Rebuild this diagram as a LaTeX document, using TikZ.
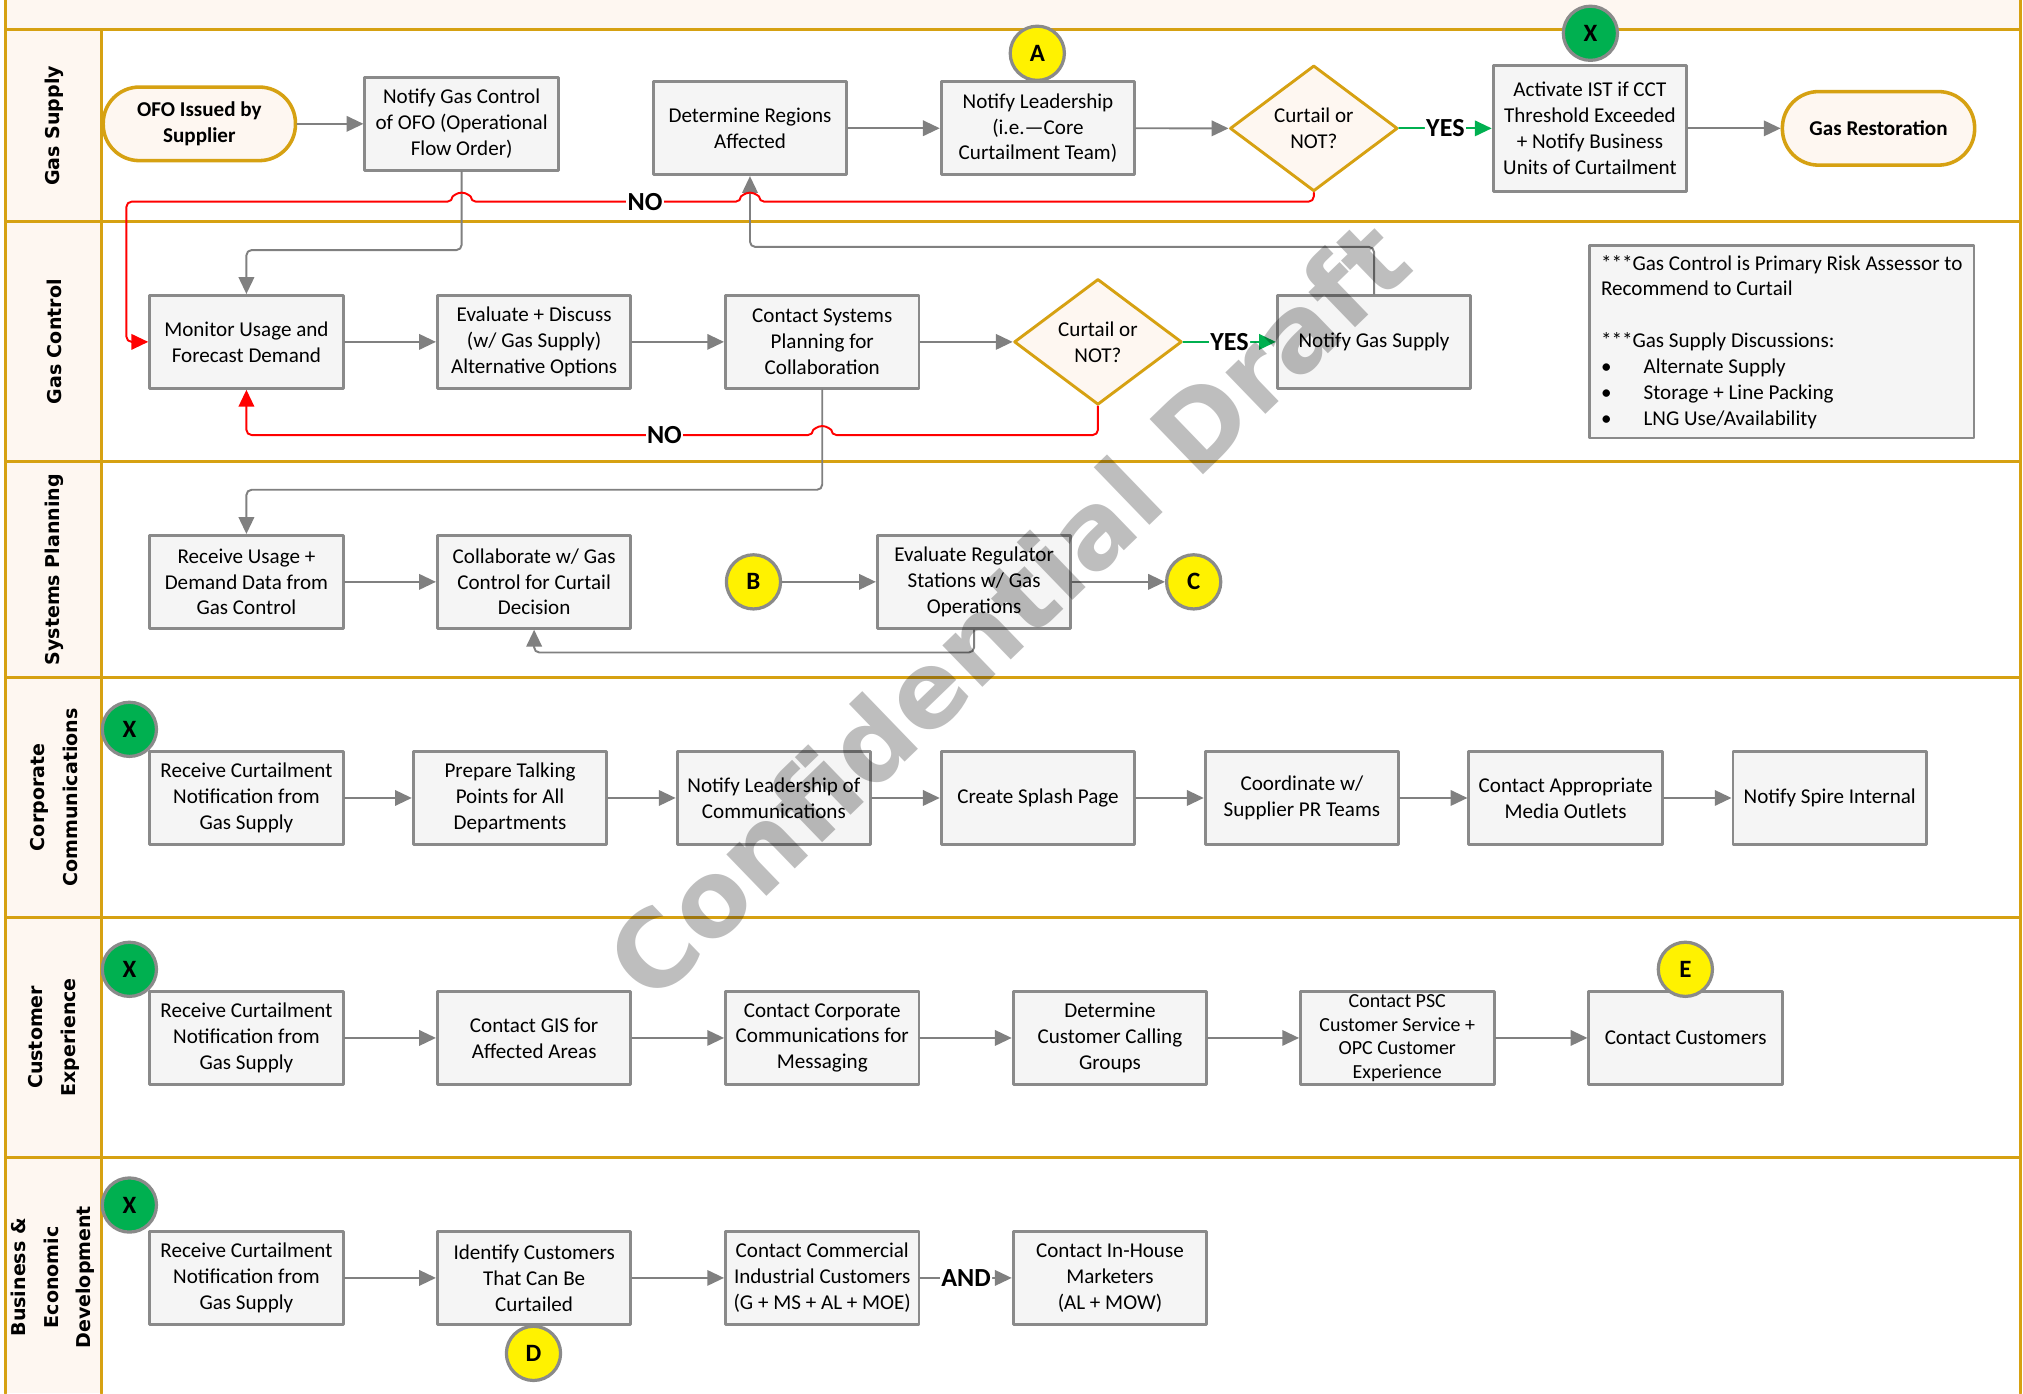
\documentclass[tikz,border=0pt]{standalone}
\usepackage{fontspec}
\setmainfont{Carlito}
\newfontfamily\lanefont{DejaVu Sans}
\usetikzlibrary{arrows.meta,shapes.geometric,calc}
\definecolor{lanegold}{RGB}{214,161,18}
\definecolor{cream}{RGB}{254,247,241}
\definecolor{boxfill}{RGB}{245,245,245}
\definecolor{boxline}{RGB}{138,138,138}
\definecolor{lngray}{RGB}{128,128,128}
\definecolor{okgreen}{RGB}{0,176,80}
\definecolor{wmgray}{RGB}{190,190,190}
\begin{document}
\begin{tikzpicture}[x=0.2mm, y=0.2mm, font=\fontsize{9.3}{11.4}\selectfont, line join=round, line cap=round, >={Triangle[length=2.6mm,width=2.4mm]},
	lane/.style={draw=lanegold, line width=0.45mm},
	lanetxt/.style={rotate=90, align=center, font=\lanefont\bfseries\fontsize{8.4}{14.4}\selectfont},
	box/.style={draw=boxline, fill=boxfill, line width=0.45mm, minimum width=30mm, minimum height=14.4mm, align=center, inner sep=1pt},
	term/.style={rectangle, rounded corners=5.6mm, draw=lanegold, fill=cream, line width=0.55mm, minimum width=29.8mm, minimum height=11.4mm, align=center, font=\fontsize{9.3}{11.4}\selectfont\bfseries},
	dec/.style={diamond, draw=lanegold, fill=cream, line width=0.45mm, minimum width=26mm, minimum height=19.5mm, inner sep=0pt, align=center},
	offpage/.style={circle, draw=boxline, line width=0.5mm, minimum size=8.4mm, inner sep=0pt, font=\fontsize{11}{13}\selectfont\bfseries},
	ylwc/.style={offpage, fill=yellow},
	grnc/.style={offpage, fill=okgreen},
	ln/.style={draw=lngray, line width=0.3mm, rounded corners=0.8mm},
	rln/.style={ln, draw=red},
	gln/.style={ln, draw=okgreen},
	lbl/.style={fill=white, inner sep=0.6pt, font=\fontsize{11.5}{13}\selectfont\bfseries}]
	\def\W{1568} \def\H{1080}
	\def\xl{4.5} \def\xc{79} \def\xr{1565.7}
	\useasboundingbox (0,0) rectangle (\W,-\H);
	\fill[white] (0,0) rectangle (\W,-\H);
	\fill[cream] (\xl,0) rectangle (\xr,-23);
	\fill[cream] (\xl,-23) rectangle (\xc,-\H);
	% Làn
	\foreach \y in {23,172,358,525,711,897}
		\draw[lane] (\xl,-\y) -- (\xr,-\y);
	\draw[lane] (\xl,0) -- (\xl,-\H);
	\draw[lane] (\xc,-23) -- (\xc,-\H);
	\draw[lane] (\xr,0) -- (\xr,-\H);
	\node[lanetxt] (lgs) at (42,-97.5) {Gas Supply};
	\node[lanetxt] (lgc) at (42,-265) {Gas Control};
	\node[lanetxt] (lsp) at (42,-441.5) {Systems Planning};
	\node[lanetxt] (lcc) at (42,-618) {Corporate\\Communications};
	\node[lanetxt] (lce) at (42,-804) {Customer\\Experience};
	\node[lanetxt] (lbd) at (41,-990) {Business \&\\Economic\\Development};
	% Gas Supply
	\node[term] (ofo) at (154.5,-96) {OFO Issued by\\Supplier};
	\node[box] (ngc) at (357.8,-96) {Notify Gas Control\\of OFO (Operational\\Flow Order)};
	\node[box] (detreg) at (581.3,-99.4) {Determine Regions\\Affected};
	\node[box] (nlead) at (804.5,-99.4) {Notify Leadership\\(i.e.—Core\\Curtailment Team)};
	\node[dec] (dec1) at (1018.3,-99.5) {Curtail or\\NOT?};
	\node[box, minimum height=19.6mm] (act) at (1232.3,-99.5) {Activate IST if CCT\\Threshold Exceeded\\+ Notify Business\\Units of Curtailment};
	\node[term] (rest) at (1456,-99.5) {Gas Restoration};
	\node[ylwc] (cA) at (804,-41.3) {A};
	\node[grnc] (cX1) at (1232.7,-25.8) {X};
	% Gas Control
	\node[box] (mon) at (191,-265) {Monitor Usage and\\Forecast Demand};
	\node[box] (evd) at (414,-265) {Evaluate + Discuss\\(w/ Gas Supply)\\Alternative Options};
	\node[box] (csp) at (637.3,-265) {Contact Systems\\Planning for\\Collaboration};
	\node[dec] (dec2) at (851,-265) {Curtail or\\NOT?};
	\node[box] (ngs) at (1065,-265) {Notify Gas Supply};
	\node[box, align=left, minimum width=59.6mm, minimum height=29.8mm] (note) at (1381,-265) {***Gas Control is Primary Risk Assessor to\\Recommend to Curtail\\[11.4pt]{}***Gas Supply Discussions:\\\makebox[6.6mm][l]{•}Alternate Supply\\\makebox[6.6mm][l]{•}Storage + Line Packing\\\makebox[6.6mm][l]{•}LNG Use/Availability};
	% Systems Planning
	\node[box] (rud) at (191,-451) {Receive Usage +\\Demand Data from\\Gas Control};
	\node[box] (colab) at (414,-451) {Collaborate w/ Gas\\Control for Curtail\\Decision};
	\node[ylwc] (cB) at (584,-451) {B};
	\node[box] (evr) at (755,-451) {Evaluate Regulator\\Stations w/ Gas\\Operations};
	\node[ylwc] (cC) at (925.2,-451) {C};
	% Corporate Communications
	\node[box] (cc1) at (191,-618.5) {Receive Curtailment\\Notification from\\Gas Supply};
	\node[box] (cc2) at (395.3,-618.5) {Prepare Talking\\Points for All\\Departments};
	\node[box] (cc3) at (599.8,-618.5) {Notify Leadership of\\Communications};
	\node[box] (cc4) at (804.5,-618.5) {Create Splash Page};
	\node[box] (cc5) at (1009.1,-618.5) {Coordinate w/\\Supplier PR Teams};
	\node[box] (cc6) at (1213.5,-618.5) {Contact Appropriate\\Media Outlets};
	\node[box] (cc7) at (1418.2,-618.5) {Notify Spire Internal};
	\node[grnc] (cX2) at (100.3,-565.3) {X};
	% Customer Experience
	\node[box] (ce1) at (191,-804.5) {Receive Curtailment\\Notification from\\Gas Supply};
	\node[box] (ce2) at (414,-804.5) {Contact GIS for\\Affected Areas};
	\node[box] (ce3) at (637.3,-804.5) {Contact Corporate\\Communications for\\Messaging};
	\node[box] (ce4) at (860.3,-804.5) {Determine\\Customer Calling\\Groups};
	\node[box, font=\fontsize{8.8}{10.4}\selectfont] (ce5) at (1083,-804.5) {Contact PSC\\Customer Service +\\OPC Customer\\Experience};
	\node[box] (ce6) at (1306.5,-804.5) {Contact Customers};
	\node[grnc] (cX3) at (100.3,-751.3) {X};
	\node[ylwc] (cE) at (1306.3,-751.3) {E};
	% Business & Economic Development
	\node[box] (bd1) at (191,-990.5) {Receive Curtailment\\Notification from\\Gas Supply};
	\node[box] (bd2) at (414,-990.5) {Identify Customers\\That Can Be\\Curtailed};
	\node[box] (bd3) at (637.3,-990.5) {Contact Commercial\\Industrial Customers\\(G + MS + AL + MOE)};
	\node[box] (bd4) at (860.3,-990.5) {Contact In-House\\Marketers\\(AL + MOW)};
	\node[grnc] (cX4) at (100.3,-934) {X};
	\node[ylwc] (cD) at (413.5,-1049) {D};
	% Mũi tên
	\foreach \p/\q in {ofo/ngc, detreg/nlead, nlead/dec1, act/rest, mon/evd, evd/csp, csp/dec2, rud/colab, cB/evr, evr/cC, cc1/cc2, cc2/cc3, cc3/cc4, cc4/cc5, cc5/cc6, cc6/cc7, ce1/ce2, ce2/ce3, ce3/ce4, ce4/ce5, ce5/ce6, bd1/bd2, bd2/bd3}
		\draw[ln,->] (\p.east) -- (\q.west);
	\draw[ln,->] (bd3.east) -- node[lbl] (and) {AND} (bd4.west);
	\draw[ln,->] (ngc.south) -- ++(0,-60.7) -| (mon.north);
	\draw[ln,->] (ngs.north) -- ++(0,36.5) -| (detreg.south);
	\draw[ln,->] (csp.south) -- ++(0,-77.5) -| (rud.north);
	\draw[ln,->] (evr.south) -- ++(0,-17.6) -| (colab.south);
	\draw[gln,->] (dec1.east) -- node[lbl] (yes1) {YES} (act.west);
	\draw[gln,->] (dec2.east) -- node[lbl] (yes2) {YES} (ngs.west);
	\coordinate (nolv1) at (98,-156.3);
	\coordinate (nolv2) at (191,-337.2);
	\draw[rln,->] (dec1.south) |- ($(detreg.south|-nolv1)+(7,0)$) arc[start angle=0, end angle=180, radius=1.4mm] -- ($(ngc.south|-nolv1)+(7,0)$) arc[start angle=0, end angle=180, radius=1.4mm] -- (nolv1) |- (mon.west);
	\draw[rln,->] (dec2.south) |- ($(csp.south|-nolv2)+(7,0)$) arc[start angle=0, end angle=180, radius=1.4mm] -| (mon.south);
	\node[lbl] (no1) at (500,-156.3) {NO};
	\node[lbl] (no2) at (515,-337.2) {NO};
	% Dấu mờ
	\begin{scope}[blend mode=multiply]
		\node[rotate=44, text=wmgray, font=\lanefont\bfseries\fontsize{46.5}{50}\selectfont] (wm) at (781,-472) {Confidential Draft};
	\end{scope}
\end{tikzpicture}
\end{document}
